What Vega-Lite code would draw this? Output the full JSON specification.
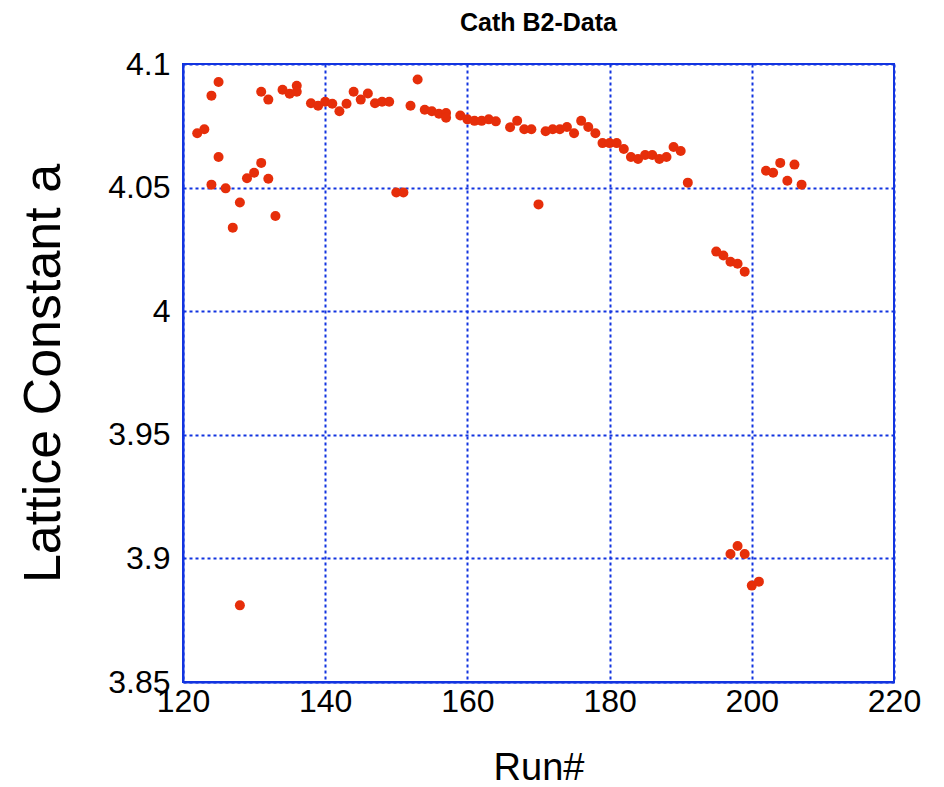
{
  "$schema": "https://vega.github.io/schema/vega-lite/v6.json",
  "width": 711,
  "height": 618,
  "autosize": {"type": "none"},
  "padding": {"left": 183, "top": 64, "right": 50, "bottom": 105},
  "background": "white",
  "title": {
    "text": "Cath B2-Data",
    "font": "Liberation Sans",
    "fontSize": 25,
    "fontWeight": "bold",
    "color": "black",
    "anchor": "middle",
    "offset": 12
  },
  "config": {
    "view": {"stroke": "#1234e0", "strokeWidth": 2},
    "axis": {
      "labelFont": "Liberation Sans",
      "titleFont": "Liberation Sans",
      "labelColor": "black",
      "titleColor": "black",
      "titleFontWeight": "normal",
      "domainColor": "#1234e0",
      "domainWidth": 2,
      "gridColor": "#1234e0",
      "gridDash": [3, 3],
      "gridWidth": 2,
      "gridOpacity": 1,
      "ticks": false,
      "labelFlush": false,
      "labelOverlap": false
    }
  },
  "data": {
    "values": [
      {"run": 122, "a": 4.072},
      {"run": 123, "a": 4.0736},
      {"run": 124, "a": 4.0872},
      {"run": 124, "a": 4.0512},
      {"run": 125, "a": 4.0927},
      {"run": 125, "a": 4.0624},
      {"run": 126, "a": 4.0497},
      {"run": 127, "a": 4.0338},
      {"run": 128, "a": 4.044},
      {"run": 128, "a": 3.881},
      {"run": 129, "a": 4.0538},
      {"run": 130, "a": 4.056},
      {"run": 131, "a": 4.06},
      {"run": 131, "a": 4.0888},
      {"run": 132, "a": 4.0536},
      {"run": 132, "a": 4.0856},
      {"run": 133, "a": 4.0385},
      {"run": 134, "a": 4.0896},
      {"run": 135, "a": 4.088},
      {"run": 136, "a": 4.0912},
      {"run": 136, "a": 4.0888},
      {"run": 138, "a": 4.0841},
      {"run": 139, "a": 4.0831},
      {"run": 140, "a": 4.0847},
      {"run": 141, "a": 4.0839},
      {"run": 142, "a": 4.0809},
      {"run": 143, "a": 4.0839},
      {"run": 144, "a": 4.0888},
      {"run": 145, "a": 4.0856},
      {"run": 146, "a": 4.0881},
      {"run": 147, "a": 4.0841},
      {"run": 148, "a": 4.0847},
      {"run": 149, "a": 4.0847},
      {"run": 150, "a": 4.048},
      {"run": 151, "a": 4.048},
      {"run": 152, "a": 4.0831},
      {"run": 153, "a": 4.0937},
      {"run": 154, "a": 4.0815},
      {"run": 155, "a": 4.0809},
      {"run": 156, "a": 4.0799},
      {"run": 157, "a": 4.0802},
      {"run": 157, "a": 4.0783},
      {"run": 159, "a": 4.0792},
      {"run": 160, "a": 4.0776},
      {"run": 161, "a": 4.077},
      {"run": 162, "a": 4.077},
      {"run": 163, "a": 4.0776},
      {"run": 164, "a": 4.0768},
      {"run": 166, "a": 4.0744},
      {"run": 167, "a": 4.077},
      {"run": 168, "a": 4.0736},
      {"run": 169, "a": 4.0736},
      {"run": 170, "a": 4.0432},
      {"run": 171, "a": 4.0728},
      {"run": 172, "a": 4.0736},
      {"run": 173, "a": 4.0736},
      {"run": 174, "a": 4.0745},
      {"run": 175, "a": 4.072},
      {"run": 176, "a": 4.077},
      {"run": 177, "a": 4.0745},
      {"run": 178, "a": 4.072},
      {"run": 179, "a": 4.068},
      {"run": 180, "a": 4.068},
      {"run": 181, "a": 4.068},
      {"run": 182, "a": 4.0656},
      {"run": 183, "a": 4.0624},
      {"run": 184, "a": 4.0616},
      {"run": 185, "a": 4.0632},
      {"run": 186, "a": 4.0632},
      {"run": 187, "a": 4.0616},
      {"run": 188, "a": 4.0624},
      {"run": 189, "a": 4.0664},
      {"run": 190, "a": 4.0648},
      {"run": 191, "a": 4.052},
      {"run": 195, "a": 4.0241},
      {"run": 196, "a": 4.0225},
      {"run": 197, "a": 4.02},
      {"run": 197, "a": 3.9018},
      {"run": 198, "a": 4.0192},
      {"run": 198, "a": 3.905},
      {"run": 199, "a": 4.016},
      {"run": 199, "a": 3.9018},
      {"run": 200, "a": 3.889},
      {"run": 201, "a": 3.8906},
      {"run": 202, "a": 4.0568},
      {"run": 203, "a": 4.056},
      {"run": 204, "a": 4.06},
      {"run": 205, "a": 4.0528},
      {"run": 206, "a": 4.0593},
      {"run": 207, "a": 4.0512}
    ]
  },
  "mark": {"type": "point", "shape": "circle", "filled": true, "size": 100, "opacity": 1, "color": "#e62e0a"},
  "encoding": {
    "x": {
      "field": "run",
      "type": "quantitative",
      "scale": {"domain": [120, 220], "nice": false, "zero": false},
      "axis": {
        "title": "Run#",
        "values": [120, 140, 160, 180, 200, 220],
        "labelFontSize": 32,
        "labelPadding": 4,
        "titleFontSize": 38,
        "titleBaseline": "alphabetic",
        "titleY": 97
      }
    },
    "y": {
      "field": "a",
      "type": "quantitative",
      "scale": {"domain": [3.85, 4.1], "nice": false, "zero": false},
      "axis": {
        "title": "Lattice Constant a",
        "values": [3.85, 3.9, 3.95, 4, 4.05, 4.1],
        "format": ".2~f",
        "labelFontSize": 32,
        "labelPadding": 13,
        "titleFontSize": 52,
        "titleBaseline": "alphabetic",
        "titleX": -124
      }
    }
  }
}
